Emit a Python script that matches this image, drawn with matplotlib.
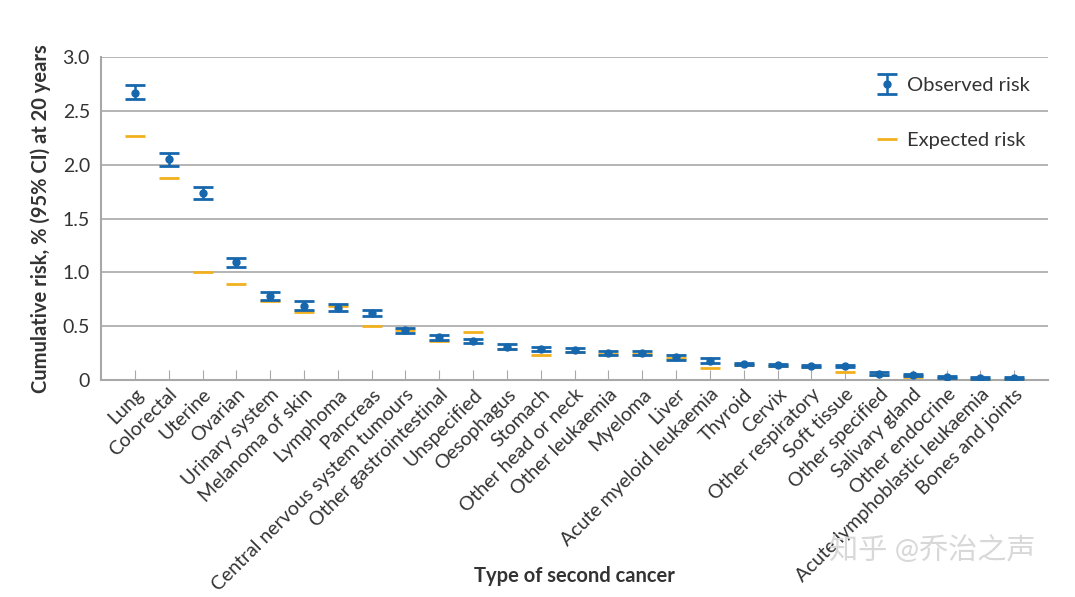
import numpy as np
import matplotlib.pyplot as plt

cancers = ['Lung', 'Colorectal', 'Uterine', 'Ovarian', 'Urinary system', 'Melanoma of skin',
           'Lymphoma', 'Pancreas', 'Central nervous system tumours', 'Other gastrointestinal',
           'Unspecified', 'Oesophagus', 'Stomach', 'Other head or neck', 'Other leukaemia',
           'Myeloma', 'Liver', 'Acute myeloid leukaemia', 'Thyroid', 'Cervix',
           'Other respiratory', 'Soft tissue', 'Other specified', 'Salivary gland',
           'Other endocrine', 'Acute lymphoblastic leukaemia', 'Bones and joints']
observed = [2.67, 2.05, 1.74, 1.10, 0.78, 0.69, 0.67, 0.62, 0.46, 0.40, 0.36, 0.31, 0.29,
            0.28, 0.25, 0.25, 0.21, 0.18, 0.15, 0.14, 0.13, 0.13, 0.06, 0.05, 0.03, 0.02, 0.02]
ci_low = [2.61, 1.99, 1.68, 1.05, 0.74, 0.65, 0.64, 0.59, 0.44, 0.37, 0.34, 0.29, 0.27,
          0.26, 0.23, 0.23, 0.19, 0.16, 0.14, 0.13, 0.12, 0.12, 0.05, 0.04, 0.02, 0.01, 0.01]
ci_high = [2.74, 2.11, 1.79, 1.13, 0.82, 0.73, 0.71, 0.65, 0.48, 0.42, 0.38, 0.33, 0.31,
           0.30, 0.27, 0.27, 0.23, 0.20, 0.16, 0.15, 0.14, 0.14, 0.07, 0.06, 0.04, 0.03, 0.03]
expected = [2.27, 1.88, 1.00, 0.89, 0.73, 0.63, 0.69, 0.50, 0.46, 0.36, 0.45, 0.29, 0.23,
            0.26, 0.24, 0.24, 0.20, 0.11, 0.14, 0.13, 0.12, 0.07, 0.05, 0.03, 0.02, 0.01, 0.01]

plt.rcParams['font.family'] = ['Lato', 'Noto Sans CJK SC', 'DejaVu Sans']
blue = '#1767ad'
orange = '#f1b01e'
grey = '#a8a8a8'

fig = plt.figure(figsize=(10.75, 5.97), dpi=100)
ax = fig.add_axes([0.094, 0.3635, 0.881, 0.541])

x = np.arange(len(cancers))
obs = np.array(observed)
yerr = [obs - np.array(ci_low), np.array(ci_high) - obs]

ax.plot(x, expected, ls='none', marker='_', ms=15, mew=2, color=orange,
        label='Expected risk', zorder=3)
ax.errorbar(x, obs, yerr=yerr, fmt='o', ms=5, color=blue, ecolor=blue,
            elinewidth=1.8, capsize=7, capthick=2, label='Observed risk', zorder=4)

ax.set_xlim(-1, 27)
ax.set_ylim(0, 3)
ax.set_yticks([0, 0.5, 1, 1.5, 2, 2.5, 3])
ax.set_yticklabels(['0', '0.5', '1.0', '1.5', '2.0', '2.5', '3.0'])
ax.set_xticks(x)
ax.set_xticklabels(cancers, rotation=45, ha='right', rotation_mode='anchor')
ax.yaxis.grid(True, color=grey, lw=1.2)
ax.set_axisbelow(True)
for s in ['top', 'right']:
    ax.spines[s].set_visible(False)
for s in ['left', 'bottom']:
    ax.spines[s].set_color(grey)
    ax.spines[s].set_linewidth(1.5)
ax.tick_params(axis='x', direction='in', length=7, color=grey, labelsize=14,
               labelcolor='#333333', pad=4)
ax.tick_params(axis='y', length=0, labelsize=14, labelcolor='#333333', pad=8)

ax.set_ylabel('Cumulative risk, % (95% CI) at 20 years', fontsize=14.5, fontweight='bold',
              color='#333333', labelpad=8)
ax.set_xlabel('Type of second cancer', fontsize=14.5, fontweight='bold', color='#333333')
ax.xaxis.set_label_coords(0.5, -0.575)

handles, labels = ax.get_legend_handles_labels()
leg = ax.legend(handles[::-1], labels[::-1], loc='upper right', frameon=False,
                fontsize=14.5, labelspacing=1.9, handlelength=0.8, handletextpad=0.6,
                bbox_to_anchor=(1.0, 0.995))
for t in leg.get_texts():
    t.set_color('#333333')

fig.text(0.867, 0.079, '知乎 @乔治之声', fontsize=21, color='#d8d8d8',
         ha='center', va='center')

fig.savefig('out.png', dpi=100)
